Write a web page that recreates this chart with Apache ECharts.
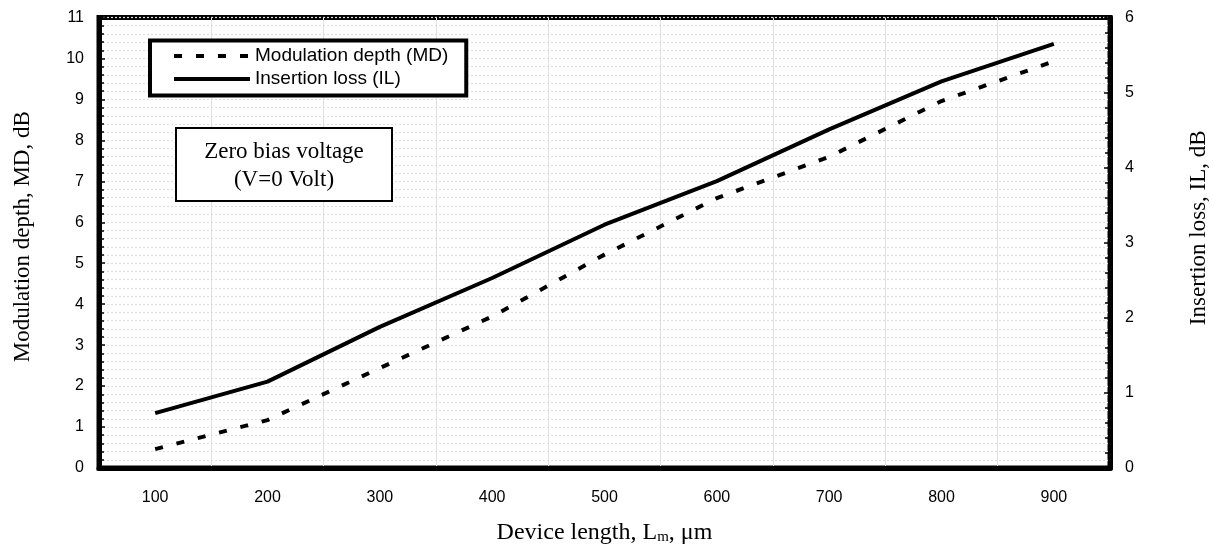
<!DOCTYPE html>
<html>
<head>
<meta charset="utf-8">
<script src="https://cdn.jsdelivr.net/npm/echarts@6/dist/echarts.min.js"></script>
<style>
    html, body {margin: 0; padding: 0; background: #fff;}
    #chart {width: 1213px; height: 553px;}
</style>
</head>
<body>
<div id="chart"></div>
<script>
    // device length, um
    var lengths = ['100', '200', '300', '400', '500', '600', '700', '800', '900'];
    // modulation depth, dB (left axis)
    var modDepth = [0.46, 1.17, 2.44, 3.70, 5.21, 6.59, 7.60, 8.96, 9.93];
    // insertion loss, dB (right axis)
    var insLoss = [0.73, 1.15, 1.88, 2.53, 3.24, 3.82, 4.51, 5.15, 5.65];

    var mdName = 'Modulation depth (MD)';
    var ilName = 'Insertion loss (IL)';
    var noteText = 'Zero bias voltage\n(V=0 Volt)';

    var sans = '"Liberation Sans", Arial, sans-serif';
    var serif = '"Liberation Serif", "Times New Roman", serif';
    var gridColor = '#e0e0e0';

    var chart = echarts.init(document.getElementById('chart'));

    var option = {
        animation: false,
        backgroundColor: '#fff',
        grid: {
            left: 99,
            right: 103,
            top: 17.5,
            bottom: 85,
            outerBoundsMode: 'none',
            show: true,
            borderColor: '#000',
            borderWidth: 5
        },
        legend: {
            orient: 'vertical',
            left: 150,
            top: 40.5,
            padding: [6, 18, 7, 22],
            itemGap: 4,
            itemWidth: 76,
            itemHeight: 14,
            borderColor: '#000',
            borderWidth: 4,
            backgroundColor: '#fff',
            itemStyle: {opacity: 0},
            lineStyle: {width: 4},
            textStyle: {
                color: '#000',
                fontFamily: sans,
                fontSize: 19,
                lineHeight: 19
            },
            data: [mdName, ilName]
        },
        xAxis: {
            type: 'category',
            data: lengths,
            boundaryGap: true,
            name: 'Device length, L{sub|m}, μm',
            nameLocation: 'middle',
            nameGap: 52,
            nameTextStyle: {
                color: '#000',
                fontFamily: serif,
                fontSize: 24,
                rich: {
                    sub: {
                        fontFamily: serif,
                        fontSize: 15,
                        verticalAlign: 'bottom',
                        padding: [10, 0, 0, 0],
                        color: '#000'
                    }
                }
            },
            axisLine: {lineStyle: {color: '#000', width: 5}},
            axisTick: {inside: true, length: 6, lineStyle: {color: '#000', width: 1.5}},
            axisLabel: {
                color: '#000',
                fontFamily: sans,
                fontSize: 16,
                margin: 22
            },
            splitLine: {show: true, lineStyle: {color: gridColor, width: 1}}
        },
        yAxis: [{
            type: 'value',
            position: 'left',
            min: 0,
            max: 11,
            interval: 1,
            name: 'Modulation depth, MD, dB',
            nameLocation: 'middle',
            nameGap: 65,
            nameTextStyle: {
                color: '#000',
                fontFamily: serif,
                fontSize: 23,
                padding: [0, 0, 0, 12]
            },
            axisLine: {show: true, lineStyle: {color: '#000', width: 5}},
            axisTick: {show: true, inside: true, length: 6, lineStyle: {color: '#000', width: 1.5}},
            minorTick: {show: true, splitNumber: 5, length: 5, lineStyle: {color: '#000', width: 1.5}},
            axisLabel: {
                color: '#000',
                fontFamily: sans,
                fontSize: 16,
                margin: 15
            },
            splitLine: {show: true, lineStyle: {color: gridColor, width: 1.2, type: [2, 2]}},
            minorSplitLine: {show: true, lineStyle: {color: gridColor, width: 1.2, type: [2, 2]}}
        }, {
            type: 'value',
            position: 'right',
            min: 0,
            max: 6,
            interval: 1,
            name: 'Insertion loss, IL, dB',
            nameLocation: 'middle',
            nameGap: 77,
            nameTextStyle: {
                color: '#000',
                fontFamily: serif,
                fontSize: 23,
                padding: [0, 0, 0, 30]
            },
            axisLine: {show: true, lineStyle: {color: '#000', width: 5}},
            axisTick: {show: true, inside: true, length: 6, lineStyle: {color: '#000', width: 1.5}},
            minorTick: {show: true, splitNumber: 5, length: 5, lineStyle: {color: '#000', width: 1.5}},
            axisLabel: {
                color: '#000',
                fontFamily: sans,
                fontSize: 16,
                margin: 15
            },
            splitLine: {show: false}
        }],
        graphic: [{
            type: 'group',
            left: 175,
            top: 127,
            z: 100,
            children: [{
                type: 'rect',
                z: 100,
                shape: {x: 0, y: 0, width: 216, height: 73},
                style: {fill: '#fff', stroke: '#000', lineWidth: 2}
            }, {
                type: 'text',
                z: 101,
                x: 108,
                y: 10,
                style: {
                    text: noteText,
                    fill: '#000',
                    font: '23px ' + serif,
                    lineHeight: 28,
                    textAlign: 'center',
                    textVerticalAlign: 'top'
                }
            }]
        }],
        series: [{
            name: mdName,
            type: 'line',
            yAxisIndex: 0,
            data: modDepth,
            symbol: 'none',
            z: 5,
            lineStyle: {color: '#000', width: 4, type: [8, 14], cap: 'butt'},
            itemStyle: {color: '#000'}
        }, {
            name: ilName,
            type: 'line',
            yAxisIndex: 1,
            data: insLoss,
            symbol: 'none',
            z: 5,
            lineStyle: {color: '#000', width: 4},
            itemStyle: {color: '#000'}
        }]
    };

    chart.setOption(option);
</script>
</body>
</html>
